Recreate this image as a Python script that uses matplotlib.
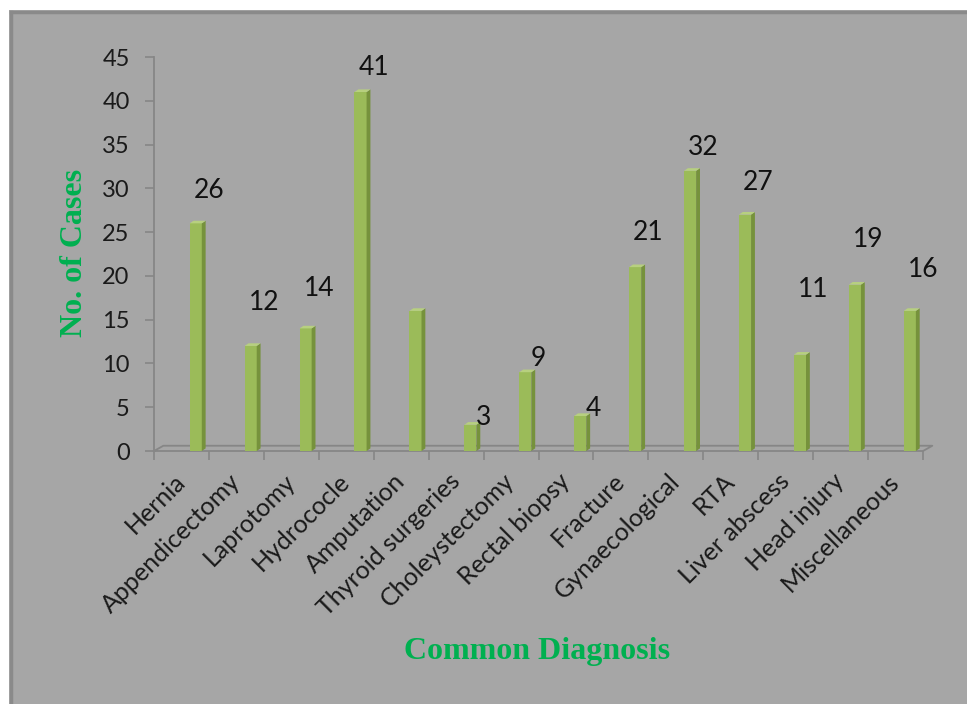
import numpy as np
import matplotlib.pyplot as plt
from matplotlib.patches import Rectangle
from matplotlib.lines import Line2D

plt.rcParams['font.family'] = ['Lato', 'DejaVu Sans']

# Daten
diagnoses = ['Hernia', 'Appendicectomy', 'Laprotomy', 'Hydrococle', 'Amputation',
             'Thyroid surgeries', 'Choleystectomy', 'Rectal biopsy', 'Fracture',
             'Gynaecological', 'RTA', 'Liver abscess', 'Head injury', 'Miscellaneous']
cases = [26, 12, 14, 41, 16, 3, 9, 4, 21, 32, 27, 11, 19, 16]
# Amputation hat im Original kein Label
show_label = [True, True, True, True, False, True, True, True, True, True, True, True, True, True]
# Abstand Label ueber Balken (Datenwerte), wie im Original unregelmaessig
label_lift = [3.8, 5.0, 4.6, 2.8, 4.7, 0.8, 1.6, 0.9, 3.9, 2.7, 3.7, 7.4, 5.1, 4.7]
yticks = np.arange(0, 46, 5)

W, H = 967, 704
fig = plt.figure(figsize=(W/100, H/100), dpi=100)
fig.patch.set_facecolor('white')

# grauer Hintergrund mit dunklerem Rand oben/links
fig.patches.append(Rectangle((9/W, 0), 1, (H-10)/H, transform=fig.transFigure,
                             facecolor='#a6a6a6', edgecolor='none', zorder=-10))
fig.lines.append(Line2D([10.5/W, 1], [(H-11.5)/H]*2, transform=fig.transFigure,
                        color='#8a8a8a', lw=2.5, zorder=-9))
fig.lines.append(Line2D([10.5/W]*2, [0, (H-11.5)/H], transform=fig.transFigure,
                        color='#8a8a8a', lw=2.5, zorder=-9))

ax = fig.add_axes([154/W, 253/H, 769/W, 394/H])
ax.set_facecolor('none')
ax.set_xlim(-0.5, 13.5)
ax.set_ylim(0, 45)

axcol = '#868686'
for s in ['top', 'right', 'bottom']:
    ax.spines[s].set_visible(False)
ax.spines['left'].set_color(axcol)
ax.spines['left'].set_linewidth(1.3)

# Boden (3D-Effekt)
dx, dy = 0.17, 0.6
ax.plot([-0.5, 13.5, 13.5+dx, -0.5+dx, -0.5], [0, 0, dy, dy, 0],
        color=axcol, lw=1.3, clip_on=False, zorder=2)

x = np.arange(len(cases))
front, side, top = '#9bbb59', '#76923c', '#b7d07f'
bw, bdx, bdy = 0.22, 0.07, 0.3
ax.bar(x + 0.15 + bw/2, cases, width=bw, color=front, zorder=3)
for i, v in enumerate(cases):
    x0, x1 = i + 0.15, i + 0.15 + bw
    ax.fill([x1, x1+bdx, x1+bdx, x1], [0, bdy, v+bdy, v], color=side, zorder=3, lw=0)
    ax.fill([x0, x1, x1+bdx, x0+bdx], [v, v, v+bdy, v+bdy], color=top, zorder=3, lw=0)
    if show_label[i]:
        ax.text(i + 0.5, v + label_lift[i], str(v), ha='center', va='center',
                fontsize=19, color='#111111')

ax.set_yticks(yticks)
ax.tick_params(axis='y', direction='out', length=6.5, width=1.2, color=axcol,
               labelsize=17, pad=11, labelcolor='#1a1a1a')

ax.set_xticks(np.arange(len(cases) + 1) - 0.5)
ax.set_xticklabels([])
ax.tick_params(axis='x', which='major', direction='out', length=6.5, width=1.2, color=axcol)
ax.set_xticks(x, minor=True)
ax.set_xticklabels(diagnoses, minor=True, rotation=45, ha='right', va='center',
                   rotation_mode='anchor', fontsize=18, color='#1a1a1a')
ax.tick_params(axis='x', which='minor', length=0, pad=19)

fig.text(74/W, 1 - 253/H, 'No. of Cases', rotation=90, ha='center', va='center',
         family='Liberation Serif', fontweight='bold', fontsize=23, color='#00b050')
fig.text(537/W, 1 - 652/H, 'Common Diagnosis', ha='center', va='center',
         family='Liberation Serif', fontweight='bold', fontsize=23, color='#00b050')

plt.savefig('out.png', dpi=100)
